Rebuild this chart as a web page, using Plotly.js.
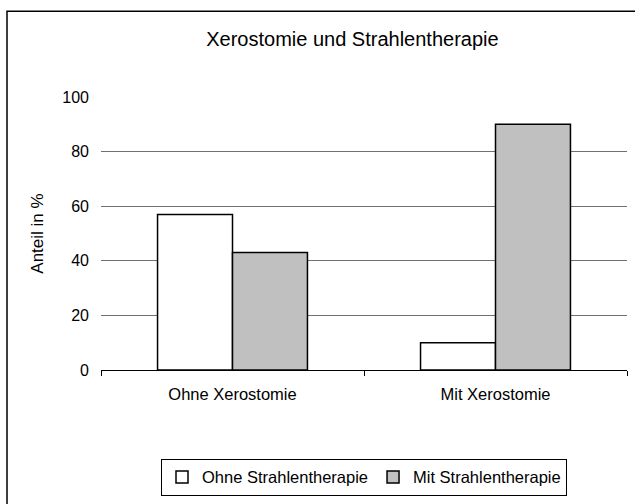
<!DOCTYPE html>
<html>
<head>
<meta charset="utf-8">
<script src="https://cdn.plot.ly/plotly-3.0.1.min.js"></script>
<style>
  html, body { margin: 0; padding: 0; background: #ffffff; }
  #chart { width: 635px; height: 504px; }
</style>
</head>
<body>
<div id="chart"></div>
<script>
// Data
const categories = ["Ohne Xerostomie", "Mit Xerostomie"];
const ohneStrahlentherapie = [57, 10];
const mitStrahlentherapie = [43, 90];
const seriesNames = ["Ohne Strahlentherapie", "Mit Strahlentherapie"];
const yTicks = [0, 20, 40, 60, 80, 100];

const FONT = "Liberation Sans, Arial, sans-serif";

const traces = [
  {
    type: "bar",
    name: seriesNames[0],
    x: categories,
    y: ohneStrahlentherapie,
    marker: { color: "#ffffff", line: { color: "#000000", width: 1.5 } },
    hoverinfo: "x+y+name"
  },
  {
    type: "bar",
    name: seriesNames[1],
    x: categories,
    y: mitStrahlentherapie,
    marker: { color: "#c0c0c0", line: { color: "#000000", width: 1.5 } },
    hoverinfo: "x+y+name"
  }
];

const layout = {
  width: 635,
  height: 504,
  margin: { l: 101, r: 8, t: 97, b: 127 },
  paper_bgcolor: "#ffffff",
  plot_bgcolor: "#ffffff",
  font: { family: FONT, size: 16.5, color: "#000000" },
  barmode: "group",
  bargap: 0.43,
  bargroupgap: 0,
  title: {
    text: "Xerostomie und Strahlentherapie",
    font: { family: FONT, size: 20, color: "#000000" },
    x: 0.555, xanchor: "center",
    xref: "container",
    y: 1 - 39 / 504, yanchor: "middle",
    yref: "container"
  },
  xaxis: {
    type: "category",
    showgrid: false,
    showline: true,
    linecolor: "#000000",
    linewidth: 1,
    ticks: "outside",
    ticklen: 5,
    tickcolor: "#000000",
    tickwidth: 1,
    tickson: "boundaries",
    ticklabelstandoff: 9,
    tickfont: { family: FONT, size: 16.5, color: "#000000" },
    zeroline: false,
    fixedrange: true
  },
  yaxis: {
    range: [0, 100],
    tickvals: yTicks,
    ticktext: yTicks.map(String),
    showgrid: true,
    gridcolor: "#707070",
    gridwidth: 1,
    showline: false,
    zeroline: false,
    ticks: "",
    ticklabelstandoff: 11,
    tickfont: { family: FONT, size: 16, color: "#000000" },
    title: {
      text: "Anteil in %",
      font: { family: FONT, size: 17, color: "#000000" },
      standoff: 14
    },
    fixedrange: true
  },
  showlegend: true,
  legend: {
    orientation: "h",
    x: 0.5, xanchor: "center",
    y: (377 - 468) / 280, yanchor: "top",
    bordercolor: "#000000",
    borderwidth: 1,
    bgcolor: "#ffffff",
    font: { family: FONT, size: 16.5, color: "#000000" },
    itemwidth: 30,
    traceorder: "normal"
  },
  shapes: [
    {
      type: "rect",
      xref: "paper", yref: "paper",
      x0: (7 - 101) / 526, x1: 1.2,
      y0: -0.6, y1: (377 - 9) / 280,
      line: { color: "#000000", width: 1.5 },
      fillcolor: "rgba(0,0,0,0)",
      layer: "below"
    }
  ]
};

Plotly.newPlot("chart", traces, layout, { displayModeBar: false, staticPlot: true });
</script>
</body>
</html>
